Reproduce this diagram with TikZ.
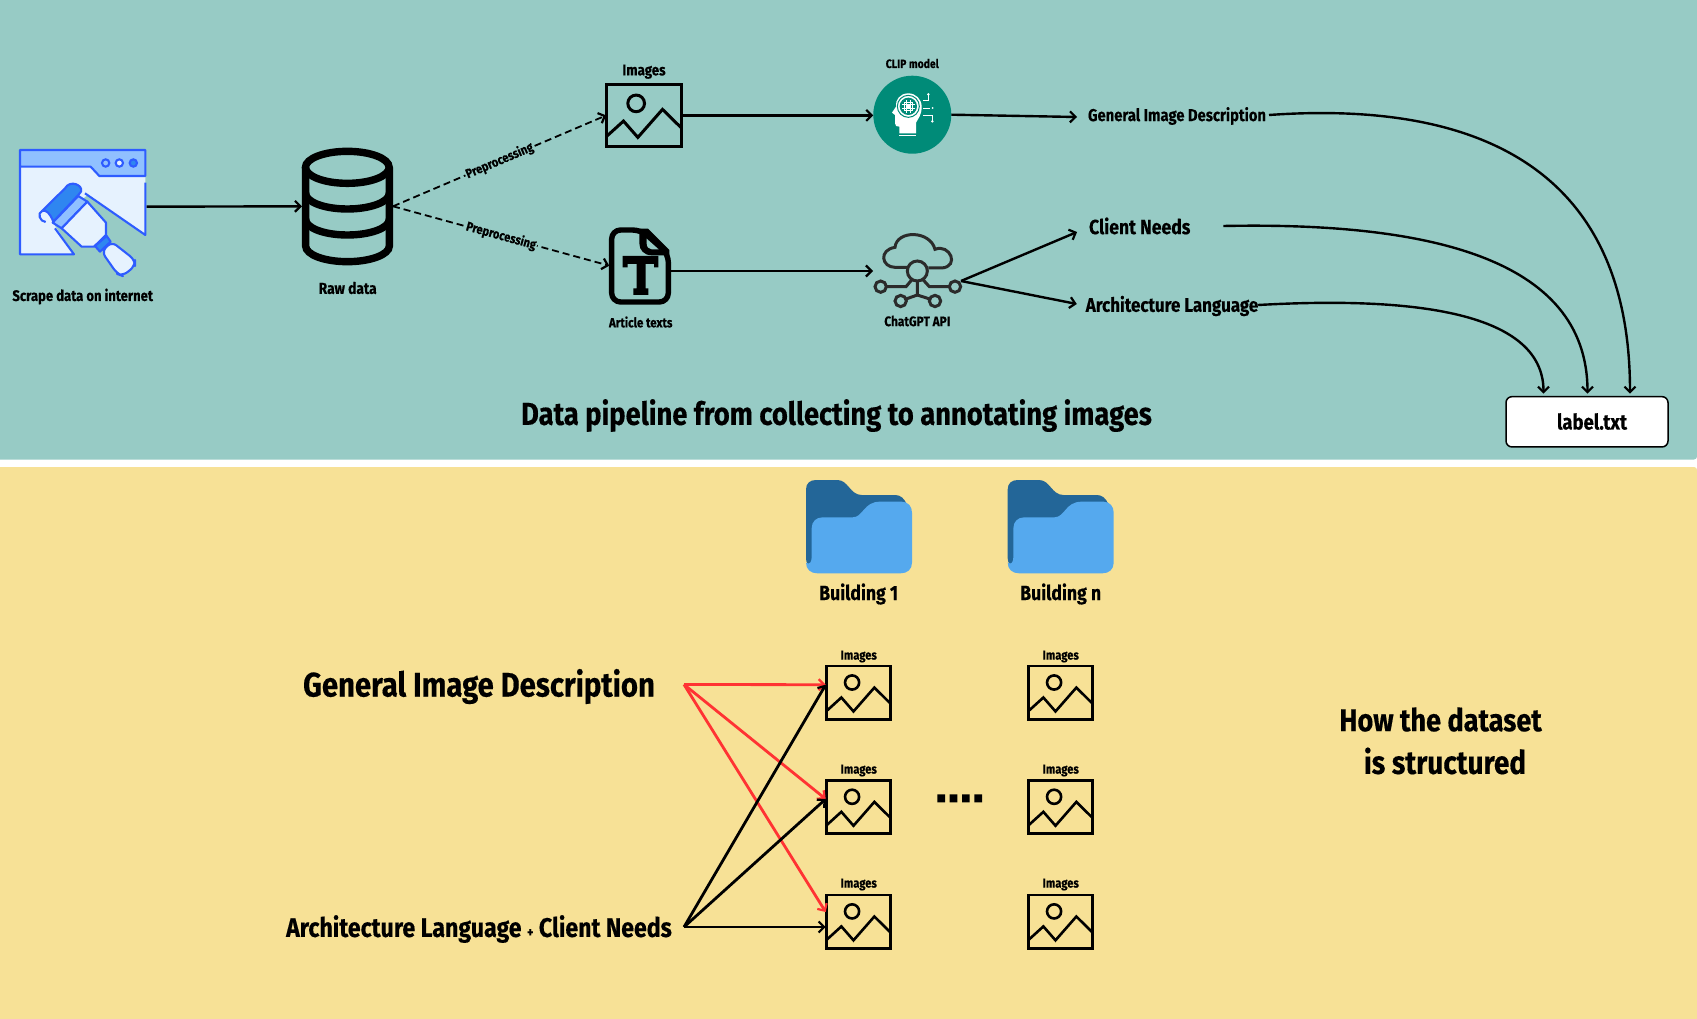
\documentclass[tikz,border=0pt]{standalone}
\usepackage{fontspec}
\setmainfont{Fira Sans}[FakeStretch=0.86,BoldFeatures={FakeBold=0.35}]
\usetikzlibrary{arrows.meta,calc}
\definecolor{panelteal}{HTML}{97CBC5}
\definecolor{panelyellow}{HTML}{F7E196}
\definecolor{webblue}{HTML}{2E5CFF}
\definecolor{weblight}{HTML}{E6F2FE}
\definecolor{webmid}{HTML}{90C0FF}
\definecolor{webdark}{HTML}{2F86F0}
\definecolor{clipgreen}{HTML}{008B78}
\definecolor{folddark}{HTML}{236698}
\definecolor{foldlight}{HTML}{55A9EE}
\definecolor{redarrow}{HTML}{FF3333}
\definecolor{chatgrey}{HTML}{2B2B2B}
\newcommand{\tsz}[1]{\fontsize{#1}{#1}\selectfont\bfseries}
\tikzset{
  arr/.style={draw=black,line width=2.4pt,-{Straight Barb[length=5.5pt,width=11pt,line width=2.2pt]}},
  dasharr/.style={arr,line width=1.8pt,dash pattern=on 7pt off 4pt},
  blackarr/.style={arr,line width=2.8pt},
  redarr/.style={arr,draw=redarrow,line width=2.8pt},
  lbl/.style={inner sep=0pt,outer sep=0pt,text=black},
  webline/.style={draw=webblue,line width=2.1pt,line join=round},
}
% name, cx, cy, w, h, line width
\newcommand{\imgicon}[6]{%
  \node[draw=black,line width=#6,inner sep=0pt,outer sep=0pt,minimum width=#4,minimum height=#5] (#1) at (#2,#3) {};
  \begin{scope}[shift={($(#2,#3)+(-#4/2,-#5/2)$)},xscale=#4/227,yscale=#5/188]
    \draw[line width=#6,line join=miter] (0,158) -- (52,111) -- (95,160) -- (169,76) -- (227,133);
    \draw[line width=#6] (90,58) circle[radius=25];
  \end{scope}}
% name, x shift
\newcommand{\foldericon}[2]{%
  \node[inner sep=0pt,outer sep=0pt,minimum width=106pt,minimum height=93pt] (#1) at (#2+53,526.5) {};
  \begin{scope}[shift={(#2-26,460)},scale=0.33333]
    \fill[folddark] (78,88) .. controls (78,70) and (90,60) .. (108,60) -- (172,60) .. controls (205,60) and (210,105) .. (245,105) -- (345,105) .. controls (362,105) and (372,115) .. (380,132) -- (380,250) -- (100,318) .. controls (85,316) and (78,310) .. (78,295) -- cycle;
    \fill[foldlight] (95,205) .. controls (95,185) and (108,172) .. (128,172) -- (218,172) .. controls (250,172) and (250,125) .. (300,125) -- (365,125) .. controls (385,125) and (396,140) .. (396,158) -- (396,308) .. controls (396,328) and (382,340) .. (362,340) -- (112,340) .. controls (92,340) and (78,328) .. (78,308) .. controls (90,316) and (95,305) .. (95,290) -- cycle;
  \end{scope}}
\newcommand{\dbarc}[1]{(917,#1) .. controls (917,#1+26) and (973,#1+47) .. (1042,#1+47) .. controls (1111,#1+47) and (1168,#1+26) .. (1168,#1)}
\begin{document}
\begin{tikzpicture}[x=1pt,y=-1pt]
\useasboundingbox (0,0) rectangle (1697,1019);
\fill[white] (0,0) rectangle (1697,1019);
\fill[panelteal,rounded corners=3pt] (-5,-5) rectangle (1697,459.5);
\fill[panelyellow,rounded corners=3pt] (-5,467) rectangle (1697,1025);

% ---- scrape icon
\node[inner sep=0pt,outer sep=0pt,minimum width=127.5pt,minimum height=115pt] (scrape) at (82.9,206.7) {};
\begin{scope}[shift={(0,120)},scale=0.33333]
  \fill[weblight] (60,90) -- (436,90) -- (436,345) -- (262,225) -- (160,310) -- (222,403) -- (60,403) -- cycle;
  \draw[webline] (436,188) -- (436,345) -- (255,220);
  \draw[webline] (165,325) -- (222,403) -- (60,403) -- (60,140);
  \draw[webline,fill=webmid] (60,90) -- (436,90) -- (436,168) -- (298,168) -- (272,140) -- (60,140) -- cycle;
  \draw[draw=webblue,line width=2.1pt,fill=webmid] (317,129) circle[radius=11];
  \draw[draw=webblue,line width=2.1pt,fill=weblight] (358,129) circle[radius=11];
  \draw[draw=webblue,line width=2.1pt,fill=webdark] (400,129) circle[radius=11];
  % roller
  \draw[webline,fill=webdark] (127,272) -- (195,205) .. controls (210,178) and (250,195) .. (243,215) -- (235,225) -- (160,305) .. controls (150,280) and (140,270) .. (127,272) -- cycle;
  \draw[webline,fill=weblight] (127,272) .. controls (110,280) and (120,305) .. (137,306);
  % ferrule
  \draw[webline,fill=webmid] (158,308) -- (235,228) -- (262,245) -- (185,325) -- cycle;
  % body
  \draw[webline,fill=weblight] (185,325) -- (262,245) -- (318,308) -- (318,345) -- (282,380) -- (245,380) -- cycle;
  % neck
  \draw[webline,fill=webdark] (285,378) -- (320,348) -- (332,365) -- (300,395) -- cycle;
  % handle
  \draw[webline,fill=weblight,rounded corners=6pt] (305,395) -- (335,365) -- (405,420) -- (405,438) -- (368,468) -- (352,462) -- cycle;
\end{scope}

% ---- database
\node[inner sep=0pt,outer sep=0pt,minimum width=91pt,minimum height=116pt] (db) at (347.5,206.3) {};
\begin{scope}[shift={(0,120)},scale=0.33333]
  \draw[line width=7.4pt] (1042,142) ellipse[x radius=125.5,y radius=48];
  \draw[line width=7.4pt] (917,142) -- (917,378) .. controls (917,404) and (973,425) .. (1042,425) .. controls (1111,425) and (1168,404) .. (1168,378) -- (1168,142);
  \draw[line width=7.4pt] \dbarc{220};
  \draw[line width=7.4pt] \dbarc{298};
\end{scope}

% ---- image icon top
\imgicon{img1}{644}{115.4}{75.7}{62.7}{3pt}

% ---- clip
\node[circle,fill=clipgreen,inner sep=0pt,outer sep=0pt,minimum size=78pt] (clip) at (912.3,114.7) {};
\begin{scope}[shift={(580,40)},scale=0.33333]
  \fill[white] (985,160) .. controls (960,160) and (945,180) .. (948,200) -- (936,218) -- (945,225) -- (945,250) .. controls (945,258) and (950,260) .. (958,260) -- (958,280) -- (1008,280) -- (1008,248) .. controls (1015,235) and (1025,225) .. (1025,200) .. controls (1025,178) and (1008,160) .. (985,160) -- cycle;
  \draw[clipgreen,line width=1pt] (985,199) circle[radius=33];
  \fill[clipgreen] (985,199) circle[radius=26];
  \draw[white,line width=1.2pt] (973,187) rectangle (997,211);
  \fill[white] (980,194) rectangle (990,204);
  \draw[white,line width=.6pt] (966,193) -- (1004,193) (966,205) -- (1004,205) (979,180) -- (979,218) (991,180) -- (991,218);
  \draw[white,line width=.9pt] (1030,182) -- (1045,182) -- (1045,165) (1030,204) -- (1050,204) (1030,225) -- (1056,225) -- (1056,242);
  \fill[white] (1045,163) circle[radius=4] (1058,204) circle[radius=3] (1057,244) circle[radius=4];
  \fill[white] (958,284) rectangle (1008,289);
\end{scope}

% ---- document icon
\node[inner sep=0pt,outer sep=0pt,minimum width=61.5pt,minimum height=77pt] (doc) at (640,265.7) {};
\begin{scope}[shift={(580,40)},scale=0.33333]
  \draw[line width=5.4pt,line join=round,rounded corners=9pt] (185,570) -- (95,570) -- (95,786) -- (265,786) -- (265,640) -- cycle;
  \fill[black] (178,566) -- (204,566) -- (268,630) -- (268,646) -- (215,646) .. controls (192,646) and (178,630) .. (178,610) -- cycle;
  \fill[panelteal] (200,596) -- (236,628) -- (215,628) .. controls (206,628) and (200,620) .. (200,610) -- cycle;
  \fill (128,648) -- (235,648) -- (235,682) -- (222,682) -- (222,672) -- (197,672) -- (197,745) -- (205,745) -- (205,765) -- (160,765) -- (160,745) -- (170,745) -- (170,672) -- (143,672) -- (143,682) -- (128,682) -- cycle;
\end{scope}

% ---- chatgpt icon
\node[inner sep=0pt,outer sep=0pt,minimum width=88pt,minimum height=73pt] (chat) at (917,271) {};
\begin{scope}[shift={(580,40)},scale=0.33333,draw=chatgrey,line width=3pt]
  \draw (982,682) -- (945,682) .. controls (905,682) and (895,630) .. (945,622) .. controls (950,570) and (1050,570) .. (1065,628) .. controls (1110,610) and (1140,680) .. (1085,684) -- (1045,684);
  \draw (1012,693) circle[radius=30];
  \draw (902,740) circle[radius=17];
  \draw (1125,740) circle[radius=17];
  \draw (962,783) circle[radius=17];
  \draw (1065,783) circle[radius=17];
  \draw (919,740) -- (978,740) -- (995,720);
  \draw (1108,740) -- (1048,740) -- (1030,720);
  \draw (1012,723) -- (1012,765) -- (978,777);
  \draw (1012,765) -- (1049,777);
\end{scope}

% ---- top texts
\node[lbl,font=\tsz{15.2}] (t1) at (82.7,296.5) {Scrape data on internet};
\node[lbl,font=\tsz{16}] (t2) at (347.7,288) {Raw data};
\node[lbl,font=\tsz{15.5}] (t3) at (644,71.7) {Images};
\node[lbl,font=\tsz{12.1}] (t4) at (912.3,63.5) {CLIP model};
\node[lbl,font=\tsz{13.4}] (t5) at (640.7,322) {Article texts};
\node[lbl,font=\tsz{13.8}] (t6) at (917.3,321) {ChatGPT API};
\node[lbl,font=\tsz{17.2}] (gen) at (1177,116) {General Image Description};
\node[lbl,font=\tsz{20.5}] (client) at (1139.7,226) {Client Needs};
\node[lbl,font=\tsz{19.7}] (arch) at (1172,306) {Architecture Language};
\node[lbl,font=\tsz{31.8}] (title) at (836.5,415.5) {Data pipeline from collecting to annotating images};
\node[draw=black,line width=1.5pt,fill=white,rounded corners=6pt,inner sep=0pt,outer sep=0pt,minimum width=162pt,minimum height=50.3pt] (label) at (1587,421.8) {};
\node[lbl,font=\tsz{21.5}] (labeltxt) at (1592,421.5) {label.txt};

% ---- top connectors
\draw[arr] (scrape.east) -- (db.west);
\draw[dasharr] (db.east) -- (img1.west) node[midway,sloped,fill=panelteal,inner xsep=1pt,inner ysep=1pt,font=\tsz{13}] (p1) {Preprocessing};
\draw[dasharr] (db.east) -- (doc.west) node[midway,sloped,fill=panelteal,inner xsep=1pt,inner ysep=1pt,font=\tsz{13}] (p2) {Preprocessing};
\draw[arr] (img1.east) -- (img1.east -| clip.west);
\draw[arr] (clip.east) -- ([xshift=-11pt,yshift=-1pt]gen.west);
\draw[arr] (doc.east |- chat.west) -- (chat.west);
\draw[arr] ([yshift=-10pt]chat.east) -- ([xshift=-12pt,yshift=-6pt]client.west);
\draw[arr] ([yshift=-10pt]chat.east) -- ([xshift=-9pt,yshift=2pt]arch.west);
\coordinate (e1) at ([xshift=-43.5pt]label.north);
\coordinate (e2) at ([xshift=0.5pt]label.north);
\coordinate (e3) at ([xshift=43pt]label.north);
\draw[arr] ([xshift=3pt,yshift=1pt]gen.east) .. controls (1480,100) and (1630,170) .. ([yshift=3pt]e3);
\draw[arr] ([xshift=33pt]client.east) .. controls (1420,222) and (1587.5,255) .. ([yshift=3pt]e2);
\draw[arr] ([yshift=1pt]arch.east) .. controls (1400,297) and (1543.5,308) .. ([yshift=3pt]e1);

% ---- bottom
\foldericon{f1}{806}
\foldericon{f2}{1007.7}
\node[lbl,font=\tsz{20.5}] (b1) at (858.7,594) {Building 1};
\node[lbl,font=\tsz{20.5}] (b2) at (1060.7,594) {Building n};

\imgicon{i1}{858.7}{692.7}{64}{53.3}{2.6pt}
\imgicon{i2}{858.7}{807}{64}{53.3}{2.6pt}
\imgicon{i3}{858.7}{921.6}{64}{53.3}{2.6pt}
\imgicon{j1}{1060.7}{692.7}{64}{53.3}{2.6pt}
\imgicon{j2}{1060.7}{807}{64}{53.3}{2.6pt}
\imgicon{j3}{1060.7}{921.6}{64}{53.3}{2.6pt}
\node[lbl,font=\tsz{13}] (l1) at (858.7,656.5) {Images};
\node[lbl,font=\tsz{13}] (l2) at (858.7,770.5) {Images};
\node[lbl,font=\tsz{13}] (l3) at (858.7,884.5) {Images};
\node[lbl,font=\tsz{13}] (m1) at (1060.7,656.5) {Images};
\node[lbl,font=\tsz{13}] (m2) at (1060.7,770.5) {Images};
\node[lbl,font=\tsz{13}] (m3) at (1060.7,884.5) {Images};

\node[lbl,font=\tsz{34}] (bgen) at (479,686.5) {General Image Description};
\node[lbl,font=\tsz{26.9}] (barch) at (479,929) {Architecture Language {\fontsize{14}{14}\selectfont +} Client Needs};
\node[lbl,font=\tsz{31.5}] (how1) at (1440.6,719.5) {How the dataset};
\node[lbl,font=\tsz{32.5}] (how2) at (1445,761) {is structured};
\fill (937.3,794.3) rectangle (945,802.3) (949.7,794.3) rectangle (957.3,802.3) (962,794.3) rectangle (969.7,802.3) (974.3,794.3) rectangle (982,802.3);

\coordinate (gsrc) at (684,684.5);
\coordinate (asrc) at (684,927);
\draw[redarr] (gsrc) -- ([xshift=-1pt,yshift=8pt]i1.west);
\draw[redarr] (gsrc) -- ([xshift=-1pt,yshift=8pt]i2.west);
\draw[redarr] (gsrc) -- ([xshift=-1pt,yshift=9.6pt]i3.west);
\draw[blackarr] (asrc) -- ([xshift=-1pt,yshift=8pt]i1.west);
\draw[blackarr] (asrc) -- ([xshift=-1pt,yshift=8pt]i2.west);
\draw[blackarr] (asrc) -- ([xshift=-1pt,yshift=-5.4pt]i3.west);
\end{tikzpicture}
\end{document}
